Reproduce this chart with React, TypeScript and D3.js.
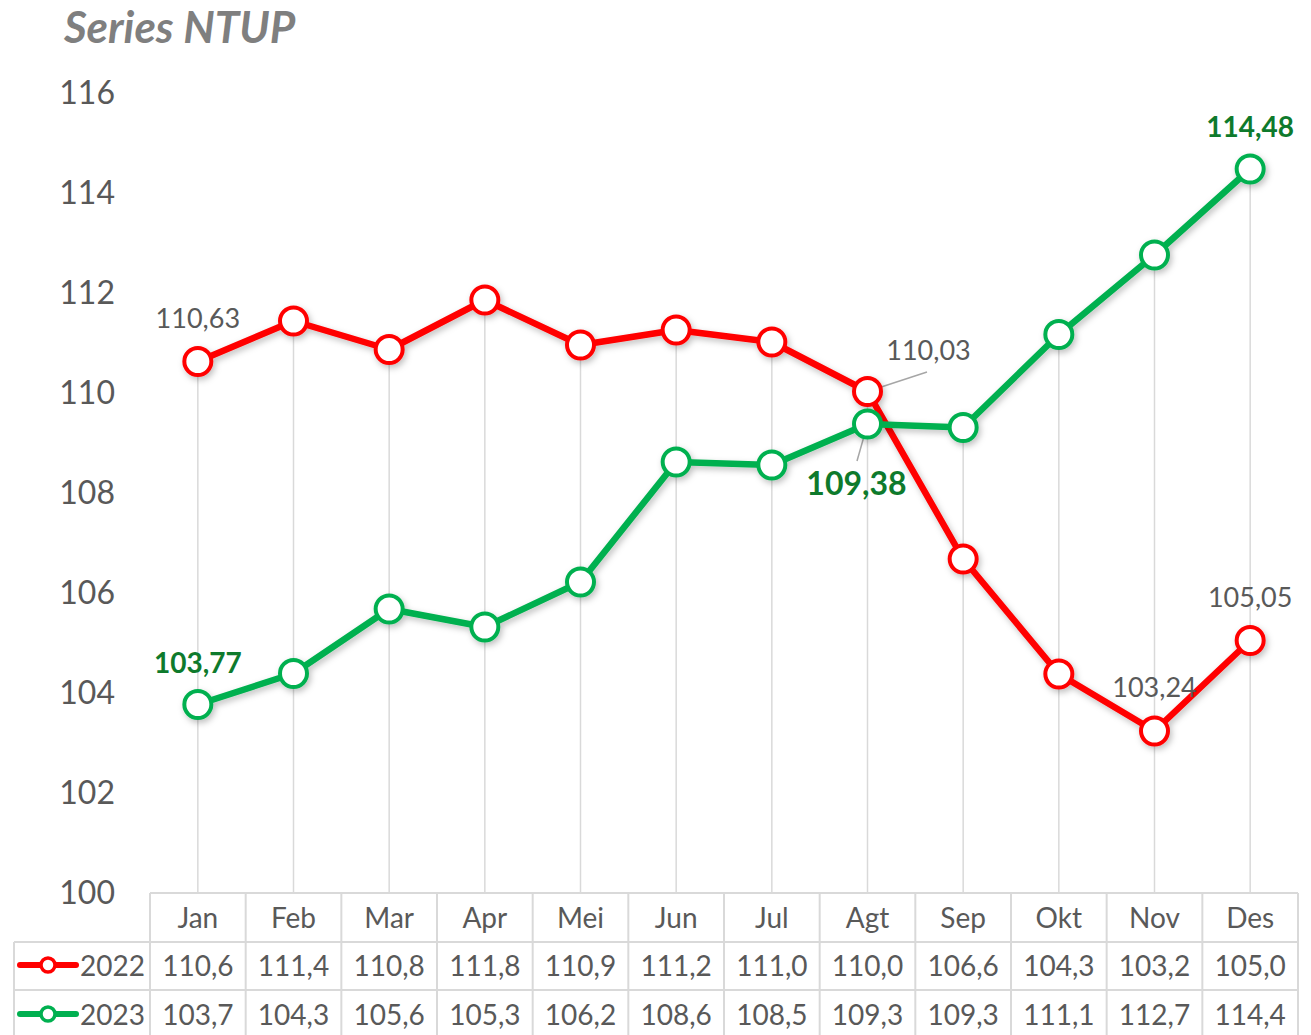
import * as d3 from "d3";

const months = ["Jan", "Feb", "Mar", "Apr", "Mei", "Jun", "Jul", "Agt", "Sep", "Okt", "Nov", "Des"];
const series2022 = [110.63, 111.44, 110.87, 111.86, 110.96, 111.26, 111.02, 110.03, 106.68, 104.38, 103.24, 105.05];
const series2023 = [103.77, 104.39, 105.68, 105.32, 106.22, 108.62, 108.56, 109.38, 109.31, 111.17, 112.76, 114.48];
const yTicks = [100, 102, 104, 106, 108, 110, 112, 114, 116];

const W = 1311;
const H = 1035;
const FONT = "Lato, 'Open Sans', sans-serif";
const RED = "#ff0000";
const GREEN = "#00b050";
const DARKGREEN = "#0e7a2c";
const GRAY = "#595959";
const GRID = "#d9d9d9";

const fmt2 = (v: number) => v.toFixed(2).replace(".", ",");
const fmtTrunc = (v: number) => (Math.floor(v * 10 + 1e-6) / 10).toFixed(1).replace(".", ",");

const App = () => {
    const x = d3.scaleBand().domain(months).range([150, 1298]);
    const y = d3.scaleLinear().domain([100, 116]).range([893, 93]);
    const cx = (m: string) => (x(m) as number) + x.bandwidth() / 2;

    const line = d3.line<number>()
        .x((_, i) => cx(months[i]))
        .y(d => y(d));

    const rowTop = [893, 942, 990, 1040];

    const seriesList = [
        { name: "2022", values: series2022, color: RED },
        { name: "2023", values: series2023, color: GREEN },
    ];

    const lbl = (s: number[], i: number) => ({ x: cx(months[i]), y: y(s[i]), v: s[i] });
    const l22a = lbl(series2022, 0);
    const l22h = lbl(series2022, 7);
    const l22k = lbl(series2022, 10);
    const l22l = lbl(series2022, 11);
    const l23a = lbl(series2023, 0);
    const l23h = lbl(series2023, 7);
    const l23l = lbl(series2023, 11);

    return (
        <svg width={W} height={H} style={{ position: "absolute", left: 0, top: 0, background: "#fff" }} fontFamily={FONT}>
            <defs>
                <filter id="shadow" x="-20%" y="-20%" width="140%" height="140%">
                    <feDropShadow dx="2" dy="3" stdDeviation="3" floodColor="#000" floodOpacity="0.25" />
                </filter>
            </defs>

            <text x={64} y={43} fontSize={44} fontWeight="bold" fontStyle="italic" fill="#7f7f7f">Series NTUP</text>

            {yTicks.map(t => (
                <text key={t} x={115} y={y(t) + 11} fontSize={32} fill={GRAY} textAnchor="end">{t}</text>
            ))}

            {/* drop lines */}
            {months.map((m, i) => (
                <line key={m} x1={cx(m)} x2={cx(m)} y1={y(Math.max(series2022[i], series2023[i]))} y2={893} stroke={GRID} strokeWidth={1.5} />
            ))}

            {/* table grid */}
            <line x1={150} x2={1298} y1={893} y2={893} stroke={GRID} strokeWidth={2} />
            <line x1={14} x2={1298} y1={942} y2={942} stroke={GRID} strokeWidth={2} />
            <line x1={14} x2={1298} y1={990} y2={990} stroke={GRID} strokeWidth={2} />
            <line x1={14} x2={14} y1={942} y2={H} stroke={GRID} strokeWidth={2} />
            {months.map(m => (
                <line key={m} x1={x(m)} x2={x(m)} y1={893} y2={H} stroke={GRID} strokeWidth={2} />
            ))}
            <line x1={1298} x2={1298} y1={893} y2={H} stroke={GRID} strokeWidth={2} />

            {months.map(m => (
                <text key={m} x={cx(m)} y={928} fontSize={28} fill={GRAY} textAnchor="middle">{m}</text>
            ))}
            {seriesList.map((s, r) => (
                <g key={s.name}>
                    <line x1={20} x2={76} y1={(rowTop[r + 1] + rowTop[r + 2]) / 2 - 1} y2={(rowTop[r + 1] + rowTop[r + 2]) / 2 - 1} stroke={s.color} strokeWidth={6} strokeLinecap="round" />
                    <circle cx={48} cy={(rowTop[r + 1] + rowTop[r + 2]) / 2 - 1} r={7} fill="#fff" stroke={s.color} strokeWidth={3.5} />
                    <text x={80} y={(rowTop[r + 1] + rowTop[r + 2]) / 2 + 10} fontSize={28} fill={GRAY}>{s.name}</text>
                    {s.values.map((v, i) => (
                        <text key={i} x={cx(months[i])} y={(rowTop[r + 1] + rowTop[r + 2]) / 2 + 10} fontSize={28} fill={GRAY} textAnchor="middle">{fmtTrunc(v)}</text>
                    ))}
                </g>
            ))}

            {/* leader lines */}
            <line x1={l22h.x} y1={l22h.y} x2={927} y2={372} stroke="#a6a6a6" strokeWidth={1.5} />
            <line x1={l23h.x} y1={l23h.y} x2={857} y2={461} stroke="#a6a6a6" strokeWidth={1.5} />

            {seriesList.map(s => (
                <g key={s.name} filter="url(#shadow)">
                    <path d={line(s.values) || ""} fill="none" stroke={s.color} strokeWidth={6.5} strokeLinejoin="round" />
                    {s.values.map((v, i) => (
                        <circle key={i} cx={cx(months[i])} cy={y(v)} r={13.5} fill="#fff" stroke={s.color} strokeWidth={4} />
                    ))}
                </g>
            ))}

            {/* data labels */}
            <text x={l22a.x} y={l22a.y - 34} fontSize={27} fill={GRAY} textAnchor="middle">{fmt2(l22a.v)}</text>
            <text x={l22h.x + 61} y={l22h.y - 32} fontSize={27} fill={GRAY} textAnchor="middle">{fmt2(l22h.v)}</text>
            <text x={l22k.x} y={l22k.y - 34} fontSize={27} fill={GRAY} textAnchor="middle">{fmt2(l22k.v)}</text>
            <text x={l22l.x} y={l22l.y - 34} fontSize={27} fill={GRAY} textAnchor="middle">{fmt2(l22l.v)}</text>
            <text x={l23a.x} y={l23a.y - 32} fontSize={28} fontWeight="bold" fill={DARKGREEN} textAnchor="middle">{fmt2(l23a.v)}</text>
            <text x={l23h.x - 11} y={l23h.y + 71} fontSize={32} fontWeight="bold" fill={DARKGREEN} textAnchor="middle">{fmt2(l23h.v)}</text>
            <text x={l23l.x} y={l23l.y - 32} fontSize={28} fontWeight="bold" fill={DARKGREEN} textAnchor="middle">{fmt2(l23l.v)}</text>
        </svg>
    );
};

export default App;
